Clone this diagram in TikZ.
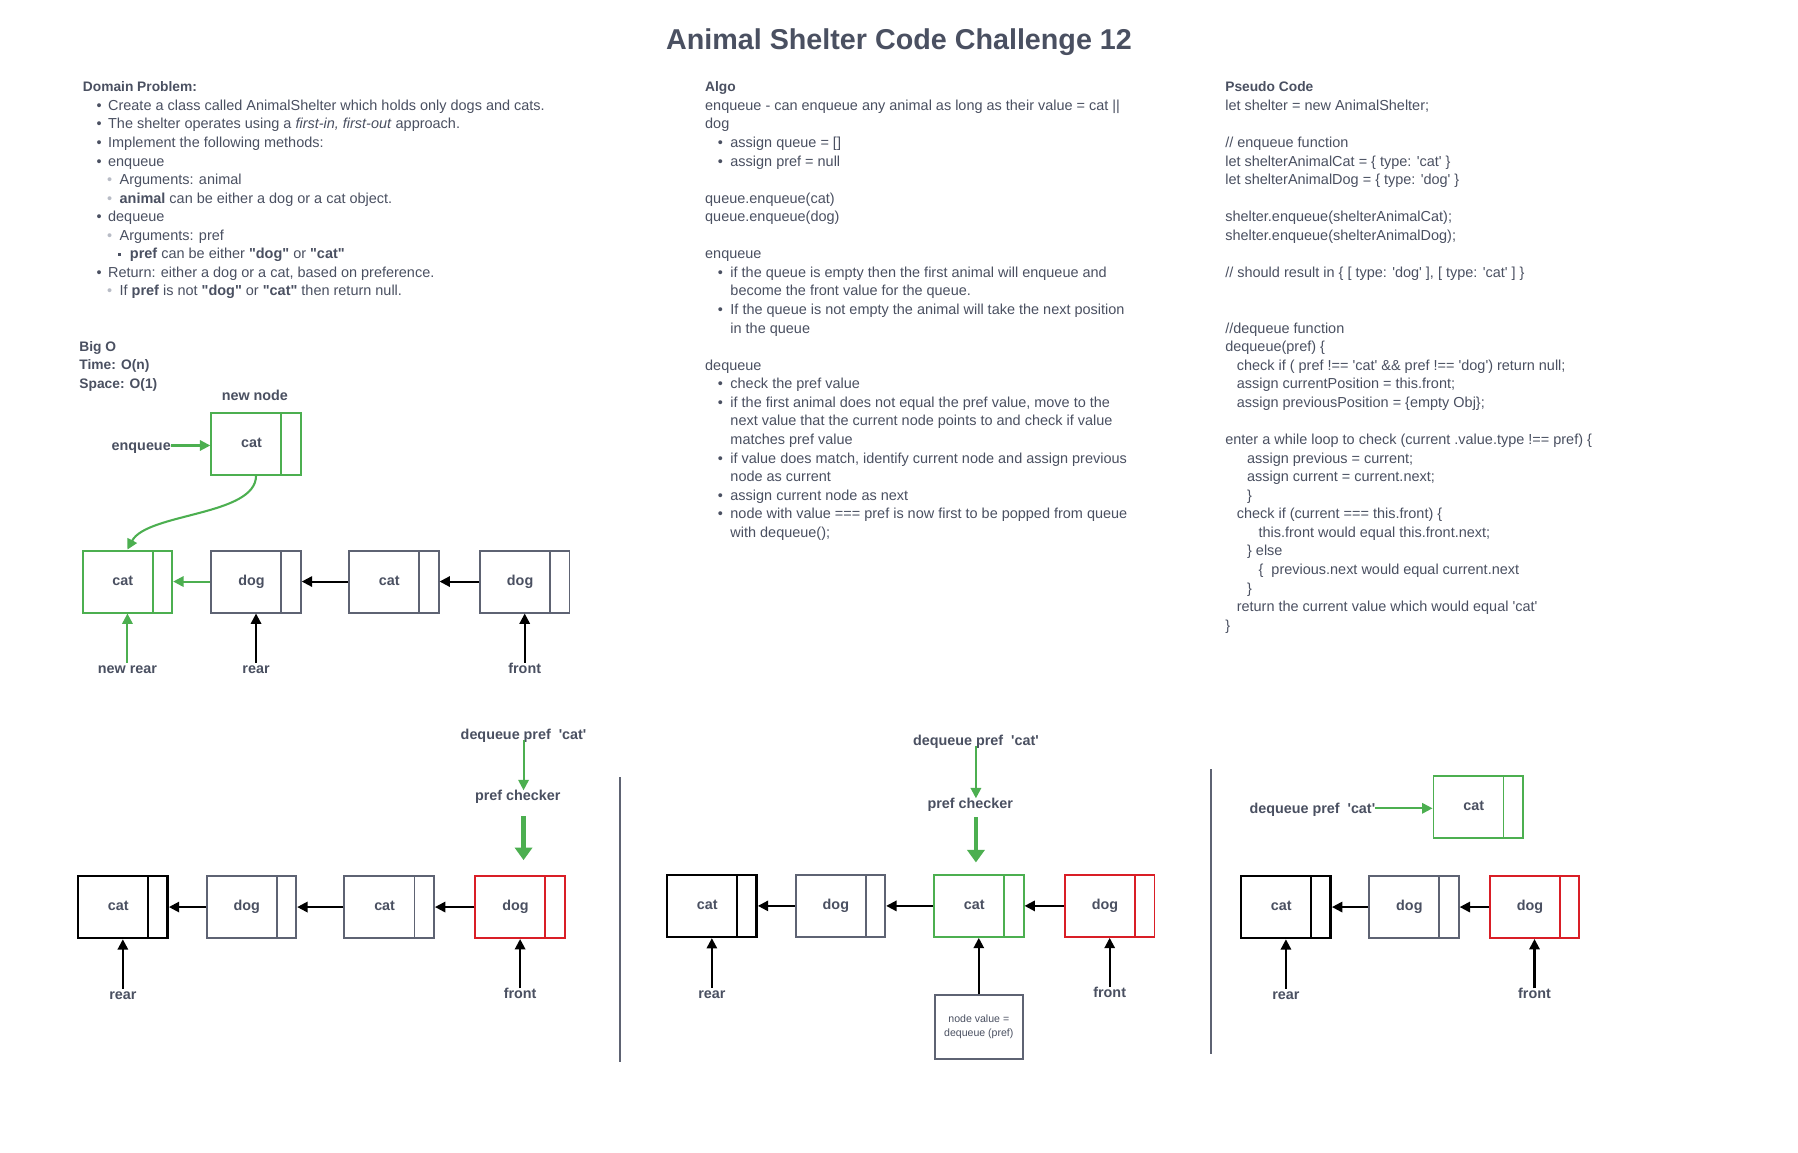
\documentclass[tikz,border=0pt]{standalone}
\usepackage{fontspec}
\setmainfont{Liberation Sans}
\usepackage{xcolor}
\usetikzlibrary{positioning, calc, arrows.meta}

\definecolor{textgray}{HTML}{4A5061}
\definecolor{boxgray}{HTML}{5E6373}
\definecolor{subgray}{HTML}{B8BCC6}
\definecolor{shgreen}{HTML}{4CAF50}
\definecolor{shred}{HTML}{D91E26}

\newcommand\bodyfont{\fontsize{12.6pt}{16.17pt}\selectfont}
\newcommand\headfont{\fontsize{12pt}{16.17pt}\selectfont\bfseries}
\newcommand\lblfont{\fontsize{12.5pt}{15pt}\selectfont\bfseries}
\newcommand\ttlfont{\fontsize{25pt}{30pt}\selectfont\bfseries}
\newcommand\smallboxfont{\fontsize{9.2pt}{12.5pt}\selectfont}
\newcommand\bul{\hspace*{12pt}\makebox[10pt][l]{\textbullet}}
\newcommand\sbul{\hspace*{21pt}\makebox[11pt][l]{\color{subgray}\textbullet}}
\newcommand\ssbul{\hspace*{31pt}\makebox[10pt][l]{\raisebox{2.5pt}{\rule{2.4pt}{2.4pt}}}}
\newcommand\abul{\hspace*{11pt}\makebox[11pt][l]{\textbullet}}
\newcommand\acont{\hspace*{22pt}}
\newcommand\ind[1]{\hspace*{#1pt}}
\newcommand\sq[1]{\textquotesingle#1\textquotesingle}
\newcommand\dq[1]{\textquotedbl#1\textquotedbl}

\begin{document}
\begin{tikzpicture}[x=1pt, y=-1pt,
  txt/.style={text=textgray, font=\bodyfont, align=left, inner sep=0pt, anchor=north west},
  lbl/.style={text=textgray, font=\lblfont, inner sep=0pt, text height=9pt, text depth=0pt},
  qnode/.style={draw=#1, line width=1.7pt, minimum width=78pt, minimum height=54pt,
    inner sep=0pt, text=textgray, font=\lblfont, text height=9pt, text depth=2.5pt,
    execute at end node={\kern8pt},
    path picture={\draw[#1, line width=1.7pt]
      ([xshift=-17pt]path picture bounding box.north east) --
      ([xshift=-17pt]path picture bounding box.south east);}},
  arr/.style={draw=black, line width=1.8pt, -{Triangle[length=9pt, width=9pt]}},
  garr/.style={draw=shgreen, line width=1.8pt, -{Triangle[length=9pt, width=9pt]}},
  fatarr/.style={draw=shgreen, line width=4pt, -{Triangle[length=11pt, width=15pt]}},
  sepline/.style={draw=boxgray, line width=1.8pt}]

  \path[use as bounding box, fill=white] (0,0) rectangle (1566,1004.2);

  % Title
  \node[text=textgray, font=\ttlfont] (title) at (783,37) {Animal Shelter Code Challenge 12};

  % Domain problem
  \node[txt] (domain) at (72,71) {{\headfont Domain Problem:}\\
    \bul Create a class called AnimalShelter which holds only dogs and cats.\\
    \bul The shelter operates using a \textit{first-in, first-out} approach.\\
    \bul Implement the following methods:\\
    \bul enqueue\\
    \sbul Arguments: animal\\
    \sbul \textbf{animal} can be either a dog or a cat object.\\
    \bul dequeue\\
    \sbul Arguments: pref\\
    \ssbul \textbf{pref} can be either \textbf{\dq{dog}} or \textbf{\dq{cat}}\\
    \bul Return: either a dog or a cat, based on preference.\\
    \sbul If \textbf{pref} is not \textbf{\dq{dog}} or \textbf{\dq{cat}} then return null.};

  % Algo
  \node[txt] (algo) at (614,71) {{\headfont Algo}\\
    enqueue - can enqueue any animal as long as their value = cat ||\\
    dog\\
    \abul assign queue = []\\
    \abul assign pref = null\\
    \\
    queue.enqueue(cat)\\
    queue.enqueue(dog)\\
    \\
    enqueue\\
    \abul if the queue is empty then the first animal will enqueue and\\
    \acont become the front value for the queue.\\
    \abul If the queue is not empty the animal will take the next position\\
    \acont in the queue\\
    \\
    dequeue\\
    \abul check the pref value\\
    \abul if the first animal does not equal the pref value, move to the\\
    \acont next value that the current node points to and check if value\\
    \acont matches pref value\\
    \abul if value does match, identify current node and assign previous\\
    \acont node as current\\
    \abul assign current node as next\\
    \abul node with value === pref is now first to be popped from queue\\
    \acont with dequeue();};

  % Pseudo code
  \node[txt] (pseudo) at (1067,71) {{\headfont Pseudo Code}\\
    let shelter = new AnimalShelter;\\
    \\
    // enqueue function\\
    let shelterAnimalCat = \{ type: \sq{cat} \}\\
    let shelterAnimalDog = \{ type: \sq{dog} \}\\
    \\
    shelter.enqueue(shelterAnimalCat);\\
    shelter.enqueue(shelterAnimalDog);\\
    \\
    // should result in \{ [ type: \sq{dog} ], [ type: \sq{cat} ] \}\\
    \\
    \\
    //dequeue function\\
    dequeue(pref) \{\\
    \ind{10}check if ( pref !== \sq{cat} \&\& pref !== \sq{dog}) return null;\\
    \ind{10}assign currentPosition = this.front;\\
    \ind{10}assign previousPosition = \{empty Obj\};\\
    \\
    enter a while loop to check (current .value.type !== pref) \{\\
    \ind{19}assign previous = current;\\
    \ind{19}assign current = current.next;\\
    \ind{19}\}\\
    \ind{10}check if (current === this.front) \{\\
    \ind{29}this.front would equal this.front.next;\\
    \ind{19}\} else\\
    \ind{29}\{\ \ previous.next would equal current.next\\
    \ind{19}\}\\
    \ind{10}return the current value which would equal \sq{cat}\\
    \}};

  % Big O
  \node[txt, font=\headfont] (bigo) at (69,297) {Big O\\Time: O(n)\\Space: O(1)};

  % Enqueue diagram
  \node[qnode=shgreen] (nn) at (223,386.5) {cat};
  \node[lbl] (newnode) at (222,344) {new node};
  \node[lbl] (enq) at (123,388) {enqueue};
  \node[qnode=shgreen] (c1) at (111,506.5) {cat};
  \node[qnode=boxgray] (d1) at (223,506.5) {dog};
  \node[qnode=boxgray] (c2) at (343,506.5) {cat};
  \node[qnode=boxgray] (d2) at (457,506.5) {dog};
  \node[lbl, below=43pt of c1] (newrear) {new rear};
  \node[lbl, below=43pt of d1] (rear0) {rear};
  \node[lbl, below=43pt of d2] (front0) {front};
  \draw[garr] (enq.east) -- (enq.east -| nn.west);
  \draw[garr] (nn.south) .. controls +(0,35) and +(17,-32) .. (c1.north);
  \draw[garr] (d1.west) -- (c1.east);
  \draw[arr] (c2.west) -- (d1.east);
  \draw[arr] (d2.west) -- (c2.east);
  \draw[garr] (newrear.north) -- (c1.south);
  \draw[arr] (rear0.north) -- (d1.south);
  \draw[arr] (front0.north) -- (d2.south);

  % Dequeue step 1
  \node[qnode=black, line width=2.2pt] (a1) at (107,790) {cat};
  \node[qnode=boxgray] (a2) at (219,790) {dog};
  \node[qnode=boxgray] (a3) at (339,790) {cat};
  \node[qnode=shred] (a4) at (453,790) {dog};
  \node[lbl] (dq1) at (456,640) {dequeue pref\ \ \sq{cat}};
  \node[lbl] (pc1) at (451,693) {pref checker};
  \node[lbl, below=43pt of a1] (rear1) {rear};
  \node[lbl, below=43pt of a4] (front1) {front};
  \draw[garr] (dq1.south) -- (dq1.south |- pc1.north);
  \draw[fatarr] ($(dq1.south |- pc1.south)+(0,13)$) -- ($(dq1.south |- a4.north)+(0,-13)$);
  \draw[arr] (a2.west) -- (a1.east);
  \draw[arr] (a3.west) -- (a2.east);
  \draw[arr] (a4.west) -- (a3.east);
  \draw[arr] (rear1.north) -- (a1.south);
  \draw[arr] (front1.north) -- (a4.south);
  \draw[sepline] (540,677) -- (540,925);

  % Dequeue step 2
  \node[qnode=black, line width=2.2pt] (b1) at (620,789) {cat};
  \node[qnode=boxgray] (b2) at (732,789) {dog};
  \node[qnode=shgreen] (b3) at (852.5,789) {cat};
  \node[qnode=shred] (b4) at (966.5,789) {dog};
  \node[lbl] (dq2) at (850,645) {dequeue pref\ \ \sq{cat}};
  \node[lbl] (pc2) at (845,700) {pref checker};
  \node[lbl, below=43pt of b1] (rear2) {rear};
  \node[lbl, below=43pt of b4] (front2) {front};
  \node[draw=boxgray, line width=1.7pt, minimum width=77pt, minimum height=55pt,
    text=textgray, font=\smallboxfont, align=center] (nv) at (852.5,894.5) {node value =\\dequeue (pref)};
  \draw[garr] (dq2.south) -- (dq2.south |- pc2.north);
  \draw[fatarr] ($(dq2.south |- pc2.south)+(0,7)$) -- ($(dq2.south |- b3.north)+(0,-10)$);
  \draw[arr] (b2.west) -- (b1.east);
  \draw[arr] (b3.west) -- (b2.east);
  \draw[arr] (b4.west) -- (b3.east);
  \draw[arr] (rear2.north) -- (b1.south);
  \draw[arr] (front2.north) -- (b4.south);
  \draw[arr] (nv.north) -- (b3.south);
  \draw[sepline] (1055,670) -- (1055,918);

  % Dequeue step 3
  \node[qnode=shgreen] (e0) at (1287.5,702.5) {cat};
  \node[lbl] (dq3) at (1143,704) {dequeue pref\ \ \sq{cat}};
  \node[qnode=black, line width=2.2pt] (e1) at (1120,790) {cat};
  \node[qnode=boxgray] (e2) at (1231.5,790) {dog};
  \node[qnode=shred] (e3) at (1336.5,790) {dog};
  \node[lbl, below=43pt of e1] (rear3) {rear};
  \node[lbl, below=43pt of e3] (front3) {front};
  \draw[garr] (dq3.east) -- (dq3.east -| e0.west);
  \draw[arr] (e2.west) -- (e1.east);
  \draw[arr] (e3.west) -- (e2.east);
  \draw[arr] (rear3.north) -- (e1.south);
  \draw[arr] (front3.north) -- (e3.south);
\end{tikzpicture}
\end{document}
